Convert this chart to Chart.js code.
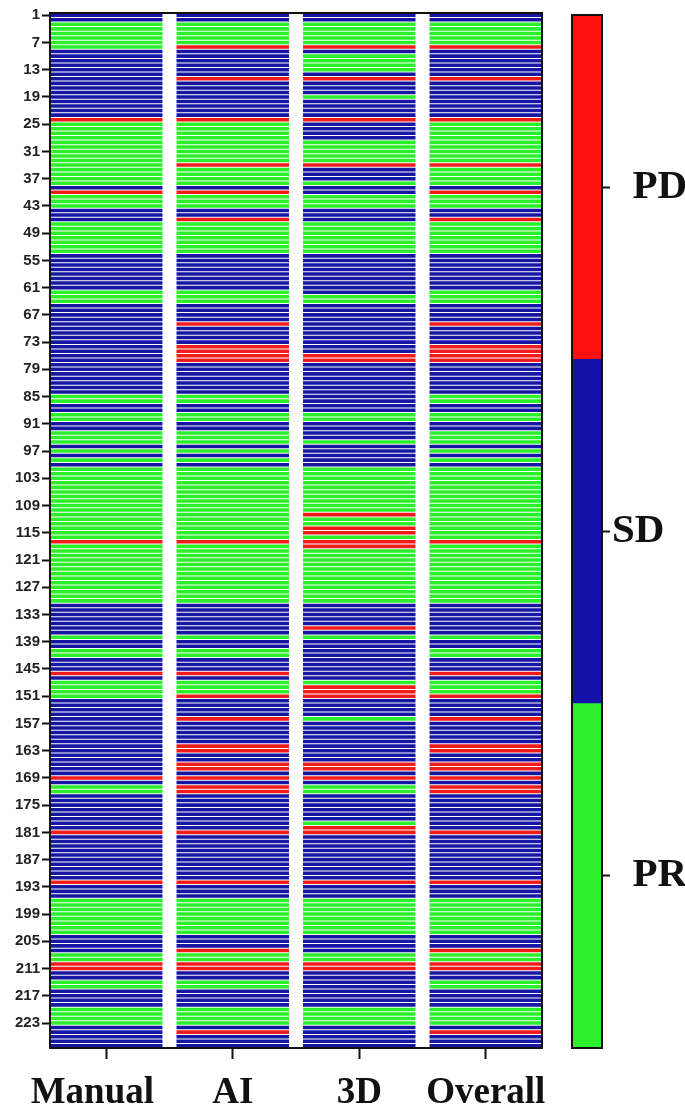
<!DOCTYPE html>
<html lang="en">
<head>
  <meta charset="UTF-8">
  <title>Manual / AI / 3D / Overall</title>
  <script src="https://cdn.jsdelivr.net/npm/chart.js"></script>
  <style>
    body { margin: 0; background: #fff; }
    #wrap { position: relative; width: 685px; height: 1113px; }
    #heat { position: absolute; left: 0; top: 0; }
    #scale { position: absolute; left: 560px; top: 0; }
  </style>
</head>
<body>
  <div id="wrap">
    <canvas id="heat" width="560" height="1113"></canvas>
    <canvas id="scale" width="125" height="1113"></canvas>
  </div>
  <script>
    const columns = ['Manual', 'AI', '3D', 'Overall'];
    const grades = ['PR', 'SD', 'PD'];
    const gradeColors = { PR: '#2aef2a', SD: '#1616a2', PD: '#f01c1c' };
    const scaleColors = { PR: '#2cf02c', SD: '#1212a8', PD: '#ff1010' };
    const yTickRows = ['1', '7', '13', '19', '25', '31', '37', '43', '49', '55', '61', '67', '73', '79', '85',
      '91', '97', '103', '109', '115', '121', '127', '133', '139', '145', '151', '157', '163', '169', '175',
      '181', '187', '193', '199', '205', '211', '217', '223'];

    // one entry per tooth, rows 1..228, top to bottom
    const manual = [
      'SD','SD','PR','PR','PR','PR','PR','PR','SD','SD','SD','SD',
      'SD','SD','SD','SD','SD','SD','SD','SD','SD','SD','SD','PD',
      'PR','PR','PR','PR','PR','PR','PR','PR','PR','PR','PR','PR',
      'PR','PR','SD','PD','PR','PR','PR','SD','SD','SD','PR','PR',
      'PR','PR','PR','PR','PR','SD','SD','SD','SD','SD','SD','SD',
      'SD','PR','PR','PR','SD','SD','SD','SD','SD','SD','SD','SD',
      'SD','SD','SD','SD','SD','SD','SD','SD','SD','SD','SD','SD',
      'PR','PR','SD','SD','PR','PR','SD','SD','PR','PR','PR','SD',
      'PR','SD','PR','SD','PR','PR','PR','PR','PR','PR','PR','PR',
      'PR','PR','PR','PR','PR','PR','PR','PR','PD','PR','PR','PR',
      'PR','PR','PR','PR','PR','PR','PR','PR','PR','PR','SD','SD',
      'SD','SD','SD','SD','SD','PR','SD','SD','PR','PR','SD','SD',
      'SD','PD','SD','PR','PR','PR','PR','SD','SD','SD','SD','SD',
      'SD','SD','SD','SD','SD','SD','SD','SD','SD','SD','SD','SD',
      'PD','SD','PR','PR','SD','SD','SD','SD','SD','SD','SD','SD',
      'PD','SD','SD','SD','SD','SD','SD','SD','SD','SD','SD','PD',
      'SD','SD','SD','PR','PR','PR','PR','PR','PR','PR','PR','SD',
      'SD','SD','SD','PR','PR','PD','PD','SD','SD','PR','PR','SD',
      'SD','SD','SD','PR','PR','PR','PR','SD','SD','SD','SD','SD'
    ];
    const ai = [
      'SD','SD','PR','PR','PR','PR','PR','PD','SD','SD','SD','SD',
      'SD','SD','PD','SD','SD','SD','SD','SD','SD','SD','SD','PD',
      'PR','PR','PR','PR','PR','PR','PR','PR','PR','PD','PR','PR',
      'PR','PR','SD','PD','PR','PR','PR','SD','SD','PD','PR','PR',
      'PR','PR','PR','PR','PR','SD','SD','SD','SD','SD','SD','SD',
      'SD','PR','PR','PR','SD','SD','SD','SD','PD','SD','SD','SD',
      'SD','PD','PD','PD','PD','SD','SD','SD','SD','SD','SD','SD',
      'PR','PR','SD','SD','PR','PR','SD','SD','PR','PR','PR','SD',
      'PR','SD','PR','SD','PR','PR','PR','PR','PR','PR','PR','PR',
      'PR','PR','PR','PR','PR','PR','PR','PR','PD','PR','PR','PR',
      'PR','PR','PR','PR','PR','PR','PR','PR','PR','PR','SD','SD',
      'SD','SD','SD','SD','SD','PR','SD','SD','PR','PR','SD','SD',
      'SD','PD','SD','PR','PR','PR','PD','SD','SD','SD','SD','PD',
      'SD','SD','SD','SD','SD','PD','PD','SD','SD','PD','PD','SD',
      'PD','SD','PD','PD','SD','SD','SD','SD','SD','SD','SD','SD',
      'PD','SD','SD','SD','SD','SD','SD','SD','SD','SD','SD','PD',
      'SD','SD','SD','PR','PR','PR','PR','PR','PR','PR','PR','SD',
      'SD','SD','PD','PR','PR','PD','PD','SD','SD','PR','PR','SD',
      'SD','SD','SD','PR','PR','PR','PR','SD','PD','SD','SD','SD'
    ];
    const threeD = [
      'SD','SD','PR','PR','PR','PR','PR','PD','SD','PR','PR','PR',
      'PR','SD','PD','SD','SD','SD','PR','SD','SD','SD','SD','PD',
      'SD','SD','SD','SD','PR','PR','PR','PR','PR','PD','SD','SD',
      'SD','PR','SD','SD','PR','PR','PR','SD','SD','SD','PR','PR',
      'PR','PR','PR','PR','PR','SD','SD','SD','SD','SD','SD','SD',
      'SD','SD','PR','PR','SD','SD','SD','SD','SD','SD','SD','SD',
      'SD','SD','SD','PD','PD','SD','SD','SD','SD','SD','SD','SD',
      'SD','SD','SD','SD','PR','PR','SD','SD','SD','SD','PR','SD',
      'SD','SD','SD','SD','PR','PR','PR','PR','PR','PR','PR','PR',
      'PR','PR','PD','PR','PR','PD','PD','PR','PD','PD','PR','PR',
      'PR','PR','PR','PR','PR','PR','PR','PR','PR','PR','SD','SD',
      'SD','SD','SD','PD','SD','PR','SD','SD','SD','SD','SD','SD',
      'SD','SD','SD','PR','PD','PD','PD','SD','SD','SD','SD','PR',
      'SD','SD','SD','SD','SD','SD','SD','SD','SD','PD','PD','SD',
      'PD','SD','PR','PR','SD','SD','SD','SD','SD','SD','PR','PD',
      'PD','SD','SD','SD','SD','SD','SD','SD','SD','SD','SD','PD',
      'SD','SD','SD','PR','PR','PR','PR','PR','PR','PR','PR','SD',
      'SD','SD','SD','PR','PR','PD','PD','SD','SD','SD','SD','SD',
      'SD','SD','SD','PR','PR','PR','PR','SD','SD','SD','SD','SD'
    ];
    const overall = [
      'SD','SD','PR','PR','PR','PR','PR','PD','SD','SD','SD','SD',
      'SD','SD','PD','SD','SD','SD','SD','SD','SD','SD','SD','PD',
      'PR','PR','PR','PR','PR','PR','PR','PR','PR','PD','PR','PR',
      'PR','PR','SD','PD','PR','PR','PR','SD','SD','PD','PR','PR',
      'PR','PR','PR','PR','PR','SD','SD','SD','SD','SD','SD','SD',
      'SD','PR','PR','PR','SD','SD','SD','SD','PD','SD','SD','SD',
      'SD','PD','PD','PD','PD','SD','SD','SD','SD','SD','SD','SD',
      'PR','PR','SD','SD','PR','PR','SD','SD','PR','PR','PR','SD',
      'PR','SD','PR','SD','PR','PR','PR','PR','PR','PR','PR','PR',
      'PR','PR','PR','PR','PR','PR','PR','PR','PD','PR','PR','PR',
      'PR','PR','PR','PR','PR','PR','PR','PR','PR','PR','SD','SD',
      'SD','SD','SD','SD','SD','PR','SD','SD','PR','PR','SD','SD',
      'SD','PD','SD','PR','PR','PR','PD','SD','SD','SD','SD','PD',
      'SD','SD','SD','SD','SD','PD','PD','SD','SD','PD','PD','SD',
      'PD','SD','PD','PD','SD','SD','SD','SD','SD','SD','SD','SD',
      'PD','SD','SD','SD','SD','SD','SD','SD','SD','SD','SD','PD',
      'SD','SD','SD','PR','PR','PR','PR','PR','PR','PR','PR','SD',
      'SD','SD','PD','PR','PR','PD','PD','SD','SD','PR','PR','SD',
      'SD','SD','SD','PR','PR','PR','PR','SD','PD','SD','SD','SD'
    ];

    const series = [manual, ai, threeD, overall];
    const rowLabels = manual.map((_, i) => String(i + 1));
    const colStep = 1.125; // column width 1 + white gap
    // the source nudges some labels sideways; spaces keep that look
    const columnText = ['Manual   ', 'AI', '3D', 'Overall'];
    const gradeText = ['  PR', 'SD', '  PD'];

    // black box round the plot area
    const frame = {
      id: 'frame',
      afterDraw(chart) {
        const { ctx, chartArea: a } = chart;
        ctx.save();
        ctx.strokeStyle = '#111';
        ctx.lineWidth = 2;
        ctx.strokeRect(a.left, a.top, a.right - a.left, a.bottom - a.top);
        ctx.restore();
      }
    };

    new Chart(document.getElementById('heat'), {
      type: 'bar',
      data: {
        labels: rowLabels,
        datasets: series.map((rows, c) => ({
          label: columns[c],
          data: rows.map(() => [c * colStep, c * colStep + 1]),
          backgroundColor: rows.map(g => gradeColors[g]),
          borderWidth: 0,
          barPercentage: 0.78,
          categoryPercentage: 1,
          grouped: false
        }))
      },
      options: {
        indexAxis: 'y',
        responsive: false,
        animation: false,
        layout: { padding: { top: 13, right: 18, left: 0, bottom: 0 } },
        plugins: { legend: { display: false }, tooltip: { enabled: false } },
        scales: {
          x: {
            type: 'linear',
            min: 0,
            max: 3 * colStep + 1,
            afterBuildTicks: s => { s.ticks = columns.map((_, c) => ({ value: c * colStep + 0.5 })); },
            ticks: {
              autoSkip: false,
              maxRotation: 0,
              callback: (v, i) => columnText[i],
              font: { family: '"Liberation Serif", serif', size: 37, weight: 'bold' },
              color: '#111',
              padding: 12
            },
            grid: { drawOnChartArea: false, tickLength: 11, tickWidth: 2, tickColor: '#111' },
            border: { color: '#111', width: 2 },
            afterFit: s => { s.height = 65; }
          },
          y: {
            ticks: {
              autoSkip: false,
              callback: function (v) {
                const l = this.getLabelForValue(v);
                return yTickRows.includes(l) ? l : '';
              },
              font: { family: '"Liberation Sans", Arial', size: 15, weight: 'bold' },
              color: '#222',
              padding: 2
            },
            grid: {
              drawOnChartArea: false,
              offset: false,
              tickLength: 8,
              tickWidth: 2,
              tickColor: ctx => yTickRows.includes(rowLabels[ctx.index]) ? '#111' : 'rgba(0,0,0,0)'
            },
            border: { color: '#111', width: 2 },
            afterFit: s => { s.width = 50; }
          }
        }
      },
      plugins: [frame]
    });

    // colour key on the right
    new Chart(document.getElementById('scale'), {
      type: 'bar',
      data: {
        labels: [''],
        datasets: grades.map(g => ({
          label: g,
          data: [1],
          backgroundColor: scaleColors[g],
          borderWidth: 0,
          barPercentage: 1,
          categoryPercentage: 1
        }))
      },
      options: {
        responsive: false,
        animation: false,
        layout: { padding: { top: 15, left: 12, bottom: 65, right: 0 } },
        plugins: { legend: { display: false }, tooltip: { enabled: false } },
        scales: {
          x: { stacked: true, display: false },
          y: {
            stacked: true,
            position: 'right',
            min: 0,
            max: 3,
            afterBuildTicks: s => { s.ticks = grades.map((_, i) => ({ value: i + 0.5 })); },
            ticks: {
              callback: (v, i) => gradeText[i],
              font: { family: '"Liberation Serif", serif', size: 41, weight: 'bold', lineHeight: 0.4 },
              color: '#111',
              padding: 2
            },
            grid: { drawOnChartArea: false, tickLength: 8, tickWidth: 2, tickColor: '#111' },
            border: { display: false },
            afterFit: s => { s.width = 83; }
          }
        }
      },
      plugins: [frame]
    });
  </script>
</body>
</html>
